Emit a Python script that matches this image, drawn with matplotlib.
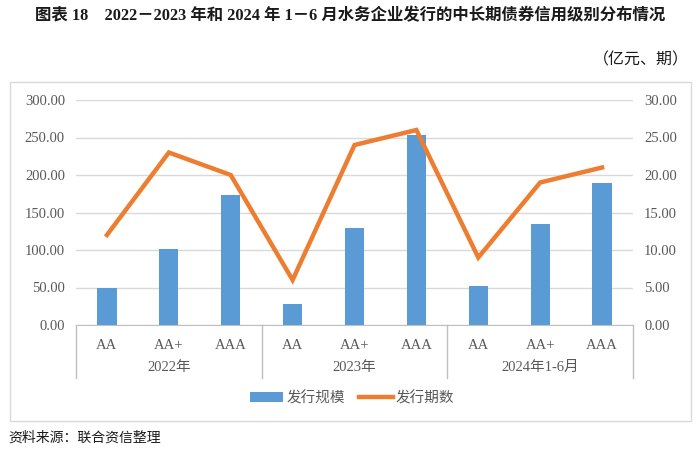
import matplotlib.pyplot as plt
from matplotlib.transforms import blended_transform_factory
from matplotlib.patches import Rectangle

# data
groups = ["2022年", "2023年", "2024年1-6月"]
ratings = ["AA", "AA+", "AAA"]
scale = [50.0, 101.0, 174.0, 28.0, 130.0, 254.0, 52.0, 135.0, 190.0]   # 发行规模 (亿元)
counts = [12, 23, 20, 6, 24, 26, 9, 19, 21]                             # 发行期数

bar_color = "#5b9bd5"
line_color = "#ed7d31"
grid_color = "#d9d9d9"
text_color = "#595959"
fonts = ["Liberation Serif", "Noto Sans CJK SC"]
plt.rcParams["font.family"] = fonts

fig = plt.figure(figsize=(7, 4.51), dpi=100)

# outer frame of the chart
fig.patches.append(Rectangle((10 / 700, 1 - 421 / 451), 681 / 700, 339 / 451,
                             transform=fig.transFigure, fill=False,
                             edgecolor="#d9d9d9", linewidth=1))

ax = fig.add_axes([76 / 700, 1 - 325 / 451, 557 / 700, 225 / 451])
ax2 = ax.twinx()

labels = ratings * len(groups)
x = list(range(len(labels)))

ax.bar(x, scale, width=0.31, color=bar_color, zorder=2, label="发行规模")
ax2.plot(x, counts, color=line_color, linewidth=3.2, solid_joinstyle="miter", label="发行期数")

ax.set_xlim(-0.5, len(labels) - 0.5)
ax.set_ylim(0, 300)
ax2.set_ylim(0, 30)
ax.set_yticks(range(0, 301, 50))
ax2.set_yticks(range(0, 31, 5))
ax.set_yticklabels([f"{v:.2f}" for v in range(0, 301, 50)])
ax2.set_yticklabels([f"{v:.2f}" for v in range(0, 31, 5)])

ax.grid(axis="y", color=grid_color, linewidth=1, zorder=0)
ax.set_axisbelow(True)
for a in (ax, ax2):
    for s in ["top", "right", "left", "bottom"]:
        a.spines[s].set_visible(False)
    a.tick_params(axis="y", length=0, labelsize=10.5, labelcolor=text_color, pad=8)
ax.spines["bottom"].set_visible(True)
ax.spines["bottom"].set_color("#bfbfbf")

ax.set_xticks(x)
ax.set_xticklabels(labels)
ax.tick_params(axis="x", length=0, labelsize=10.5, labelcolor=text_color, pad=10)

# group separators and year labels below the category axis
tr = blended_transform_factory(ax.transData, ax.transAxes)
for b in [-0.5, 2.5, 5.5, 8.5]:
    ax.plot([b, b], [0, -0.235], transform=tr, color="#bfbfbf", linewidth=1, clip_on=False)
for i, g in enumerate(groups):
    ax.text(i * 3 + 1, -0.19, g, transform=tr, ha="center", va="center",
            fontsize=10.5, color=text_color)

# legend
h1, l1 = ax.get_legend_handles_labels()
h2, l2 = ax2.get_legend_handles_labels()
fig.legend(h1 + h2, l1 + l2, loc="center", bbox_to_anchor=(352 / 700, 1 - 398 / 451),
           ncol=2, frameon=False, fontsize=10.5, labelcolor=text_color,
           handlelength=2.3, handletextpad=0.2, columnspacing=1.0)

fig.text(35 / 700, 1 - 16 / 451,
         "图表 18　2022－2023 年和 2024 年 1－6 月水务企业发行的中长期债券信用级别分布情况",
         ha="left", va="center", fontsize=11.8, fontweight="bold", color="#1a1a1a")
fig.text(689 / 700, 1 - 60 / 451, "（亿元、期）", ha="right", va="center",
         fontsize=11.5, color="#1a1a1a")
fig.text(8 / 700, 1 - 438 / 451, "资料来源：联合资信整理", ha="left", va="center",
         fontsize=10, color="#1a1a1a")

fig.savefig("out.png", dpi=100)
